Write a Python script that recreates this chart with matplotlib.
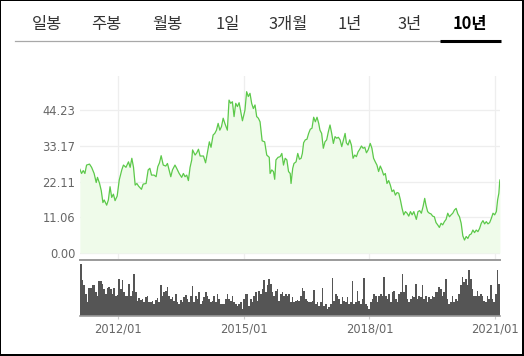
import matplotlib
matplotlib.use("Agg")
import matplotlib.pyplot as plt
from matplotlib.patches import Rectangle
from matplotlib.lines import Line2D
import numpy as np

# ---------------- data ----------------
tabs = ["일봉", "주봉", "월봉", "1일", "3개월", "1년", "3년", "10년"]
active_tab = "10년"

price_dates = [
    2011.09, 2011.13, 2011.17, 2011.21, 2011.25, 2011.32, 2011.37, 2011.43, 2011.48, 2011.51,
    2011.56, 2011.60, 2011.64, 2011.67, 2011.73, 2011.77, 2011.81, 2011.85, 2011.89, 2011.93,
    2011.98, 2012.03, 2012.09, 2012.13, 2012.19, 2012.25, 2012.29, 2012.33, 2012.37, 2012.41,
    2012.45, 2012.49, 2012.56, 2012.60, 2012.67, 2012.72, 2012.76, 2012.80, 2012.86, 2012.91,
    2012.95, 2012.99, 2013.03, 2013.08, 2013.14, 2013.18, 2013.22, 2013.26, 2013.30, 2013.36,
    2013.40, 2013.46, 2013.52, 2013.56, 2013.60, 2013.64, 2013.68, 2013.72, 2013.76, 2013.78,
    2013.84, 2013.88, 2013.92, 2013.96, 2014.04, 2014.09, 2014.13, 2014.18, 2014.22, 2014.27,
    2014.31, 2014.35, 2014.39, 2014.43, 2014.47, 2014.51, 2014.55, 2014.61, 2014.65, 2014.69,
    2014.73, 2014.77, 2014.81, 2014.85, 2014.89, 2014.93, 2014.97, 2015.03, 2015.07, 2015.11,
    2015.15, 2015.19, 2015.23, 2015.27, 2015.31, 2015.35, 2015.39, 2015.44, 2015.50, 2015.55,
    2015.61, 2015.63, 2015.67, 2015.71, 2015.74, 2015.77, 2015.82, 2015.87, 2015.91, 2015.95,
    2015.99, 2016.03, 2016.07, 2016.11, 2016.13, 2016.17, 2016.20, 2016.25, 2016.29, 2016.33,
    2016.37, 2016.40, 2016.43, 2016.47, 2016.51, 2016.55, 2016.59, 2016.63, 2016.67, 2016.71,
    2016.75, 2016.79, 2016.82, 2016.86, 2016.90, 2016.94, 2016.98, 2017.02, 2017.06, 2017.10,
    2017.14, 2017.18, 2017.22, 2017.26, 2017.30, 2017.34, 2017.38, 2017.42, 2017.45, 2017.49,
    2017.53, 2017.57, 2017.61, 2017.65, 2017.69, 2017.73, 2017.77, 2017.81, 2017.85, 2017.89,
    2017.93, 2017.97, 2018.02, 2018.06, 2018.10, 2018.14, 2018.18, 2018.22, 2018.26, 2018.30,
    2018.34, 2018.38, 2018.42, 2018.46, 2018.50, 2018.54, 2018.58, 2018.62, 2018.66, 2018.70,
    2018.74, 2018.78, 2018.82, 2018.86, 2018.90, 2018.94, 2018.98, 2019.02, 2019.06, 2019.10,
    2019.12, 2019.16, 2019.20, 2019.24, 2019.28, 2019.32, 2019.35, 2019.39, 2019.43, 2019.47,
    2019.51, 2019.55, 2019.59, 2019.63, 2019.67, 2019.71, 2019.75, 2019.79, 2019.83, 2019.87,
    2019.91, 2019.95, 2019.99, 2020.03, 2020.07, 2020.11, 2020.15, 2020.19, 2020.23, 2020.27,
    2020.31, 2020.35, 2020.39, 2020.43, 2020.47, 2020.51, 2020.55, 2020.59, 2020.63, 2020.67,
    2020.71, 2020.75, 2020.79, 2020.83, 2020.87, 2020.91, 2020.95, 2020.99, 2021.03, 2021.06,
    2021.09, 2021.10, 2021.11, 2021.115,
]
price_values = [
    25.9, 24.6, 25.5, 24.6, 27.2, 27.5, 26.5, 24.6, 21.8, 23.4,
    21.5, 19.3, 15.6, 16.4, 14.8, 16.4, 20.5, 17.2, 18.2, 16.2,
    17.6, 22.6, 25.7, 27.2, 26.5, 28.2, 26.5, 29.3, 26.5, 21.0,
    21.5, 20.7, 19.7, 21.3, 21.5, 25.7, 26.2, 24.1, 24.1, 23.6,
    26.7, 27.9, 30.1, 27.2, 26.9, 27.7, 25.7, 23.6, 25.7, 27.2,
    26.2, 24.6, 23.4, 24.6, 23.6, 24.1, 22.4, 26.5, 28.8, 31.9,
    30.3, 31.0, 32.1, 30.0, 30.0, 27.9, 30.8, 34.4, 32.7, 36.5,
    37.0, 38.0, 40.1, 38.0, 39.1, 41.7, 40.1, 38.0, 47.3, 46.3,
    46.8, 42.2, 46.3, 45.3, 46.5, 43.7, 40.9, 44.2, 49.9, 48.4,
    49.4, 46.3, 44.7, 45.8, 42.2, 41.7, 40.6, 34.7, 34.4, 30.3,
    29.6, 24.6, 25.7, 25.2, 22.8, 28.8, 29.6, 29.8, 30.8, 27.2,
    29.3, 28.8, 25.2, 24.6, 21.5, 26.2, 27.7, 28.2, 30.8, 29.0,
    29.3, 30.8, 34.1, 35.0, 35.2, 37.0, 38.3, 38.6, 42.0, 40.6,
    42.0, 40.1, 38.0, 37.0, 32.4, 34.4, 35.0, 37.5, 39.6, 37.0,
    33.9, 36.0, 35.5, 35.8, 35.0, 32.9, 35.0, 37.0, 34.1, 33.4,
    35.0, 33.4, 29.3, 30.3, 29.8, 31.3, 32.1, 33.1, 32.4, 32.7,
    31.0, 31.9, 33.9, 32.4, 29.3, 28.2, 27.2, 25.2, 26.9, 25.7,
    24.1, 24.6, 21.5, 22.4, 21.0, 19.0, 19.5, 17.9, 18.7, 18.5,
    16.4, 13.8, 11.8, 12.8, 12.3, 11.4, 12.8, 11.8, 12.8, 11.2,
    10.4, 12.8, 13.1, 12.3, 14.3, 16.9, 14.8, 12.8, 12.3, 12.1,
    11.4, 11.2, 9.4, 8.7, 7.9, 9.2, 8.7, 9.7, 10.4, 12.3,
    11.2, 11.8, 12.3, 13.3, 13.8, 12.1, 11.2, 9.2, 5.3, 4.0,
    5.1, 4.5, 5.6, 5.9, 7.1, 6.3, 7.1, 6.6, 7.6, 9.2,
    10.0, 9.0, 9.7, 9.0, 9.4, 10.7, 12.3, 11.8, 12.8, 16.4,
    18.5, 20.5, 22.1, 22.6,
]
price_dates = price_dates[:len(price_values)]

volume_values = [
    155, 105, 90, 65, 40, 82, 82, 90, 90, 70, 60, 102, 102, 95, 80, 65, 82, 85, 80, 65,
    82, 60, 62, 108, 80, 105, 70, 60, 60, 95, 60, 75, 125, 70, 45, 52, 48, 50, 40, 55,
    58, 40, 42, 45, 35, 48, 52, 40, 90, 60, 70, 75, 85, 60, 50, 55, 45, 65, 40, 35,
    48, 40, 55, 62, 50, 40, 60, 88, 40, 60, 50, 70, 35, 45, 55, 72, 60, 50, 40, 45,
    60, 40, 65, 50, 35, 35, 35, 50, 65, 50, 45, 60, 40, 35, 30, 35, 42, 20, 50, 65,
    65, 30, 50, 40, 60, 72, 45, 75, 65, 80, 105, 70, 90, 110, 95, 70, 60, 75, 80, 45,
    65, 70, 60, 65, 60, 65, 40, 55, 42, 45, 48, 45, 60, 82, 75, 50, 45, 40, 40, 45,
    78, 35, 40, 30, 40, 82, 30, 35, 20, 25, 35, 112, 45, 65, 60, 50, 35, 55, 45, 40,
    55, 35, 40, 102, 35, 40, 75, 45, 35, 50, 112, 35, 30, 20, 42, 50, 65, 60, 40, 60,
    65, 60, 115, 60, 50, 65, 40, 70, 75, 50, 40, 65, 70, 125, 70, 90, 50, 40, 50, 60,
    55, 95, 50, 60, 55, 90, 50, 60, 40, 55, 50, 60, 55, 70, 70, 85, 80, 60, 70, 110,
    50, 35, 40, 60, 40, 50, 45, 65, 90, 115, 100, 110, 90, 135, 110, 80, 60, 60, 75, 60,
    65, 60, 45, 40, 60, 50, 90, 50, 40, 65, 135, 95,
]

y_ticks = [0.00, 11.06, 22.11, 33.17, 44.23]
x_ticks = [2012, 2015, 2018, 2021]
x_tick_labels = ["2012/01", "2015/01", "2018/01", "2021/01"]

# ---------------- figure ----------------
W, H = 524, 356
fig = plt.figure(figsize=(W / 100, H / 100), dpi=100)
fig.patch.set_facecolor("white")

def fx(px):
    return px / W

def fy(py):
    return 1 - py / H

# border
for (x0, y0, x1, y1) in [(0, 0, W, 1), (0, 0, 1, H), (W - 2, 0, W, H), (0, H - 2, W, H)]:
    fig.add_artist(Rectangle((fx(x0), fy(y1)), fx(x1) - fx(x0), fy(y0) - fy(y1),
                             transform=fig.transFigure, facecolor="black",
                             edgecolor="none", zorder=10))

# tabs
tab_centers = [46.7, 106.7, 166.9, 227.7, 288.3, 349.3, 409.3, 470.0]
for name, cx in zip(tabs, tab_centers):
    bold = name == active_tab
    fig.text(fx(cx), fy(24.0), name, ha="center", va="center",
             fontsize=11.8, family=["Noto Sans CJK KR", "DejaVu Sans"],
             fontweight="bold" if bold else "normal",
             color="#000000" if bold else "#333333")
fig.add_artist(Line2D([fx(15), fx(440)], [fy(41), fy(41)], transform=fig.transFigure,
                      color="#a8a8a8", lw=0.9))
fig.add_artist(Line2D([fx(440), fx(500.5)], [fy(41), fy(41)], transform=fig.transFigure,
                      color="#000000", lw=2.2, solid_capstyle="butt"))

# price axes
x_left, x_right = 80, 500
ax = fig.add_axes([fx(x_left), fy(260), fx(x_right) - fx(x_left), fy(76) - fy(260)])
ax.set_facecolor("white")
ax.fill_between(price_dates, price_values, 0, color="#effbea", lw=0, zorder=1)
ax.plot(price_dates, price_values, color="#5cc94a", lw=0.9, zorder=3)
ax.set_xlim(2011.093, 2021.117)
ax.set_ylim(-2.17, 54.76)
ax.set_yticks(y_ticks)
ax.set_yticklabels([f"{v:.2f}" for v in y_ticks])
ax.set_xticks(x_ticks)
ax.set_xticklabels([])
ax.tick_params(axis="both", length=0)
ax.tick_params(axis="y", pad=3.4, labelsize=8.3, labelcolor="#666666")
ax.grid(True, color="#eeeeee", lw=0.9, zorder=0)
ax.set_axisbelow(True)
for s in ["top", "right", "left"]:
    ax.spines[s].set_visible(False)
ax.spines["bottom"].set_color("#9a9a9a")
ax.spines["bottom"].set_linewidth(1.4)

# volume axes
axv = fig.add_axes([fx(x_left), fy(315.7), fx(x_right) - fx(x_left), fy(261) - fy(315.7)])
axv.set_facecolor("none")
n = len(volume_values)
t0, t1 = 2011.093, 2021.117
step = (t1 - t0) / n
vol_x = [t0 + step * (i + 0.5) for i in range(n)]
axv.bar(vol_x, volume_values, width=step * 0.95, color="#555555", lw=0)
axv.set_xlim(t0, t1)
axv.set_ylim(0, 163)
axv.set_yticks([])
axv.set_xticks(x_ticks)
axv.set_xticklabels(x_tick_labels)
axv.tick_params(axis="x", length=2.5, color="#cccccc", pad=2.2, labelsize=8.3,
                labelcolor="#666666")
for s in ["top", "right", "left"]:
    axv.spines[s].set_visible(False)
axv.spines["bottom"].set_color("#9a9a9a")
axv.spines["bottom"].set_linewidth(1.2)

fig.savefig("out.png", dpi=100, facecolor="white")
